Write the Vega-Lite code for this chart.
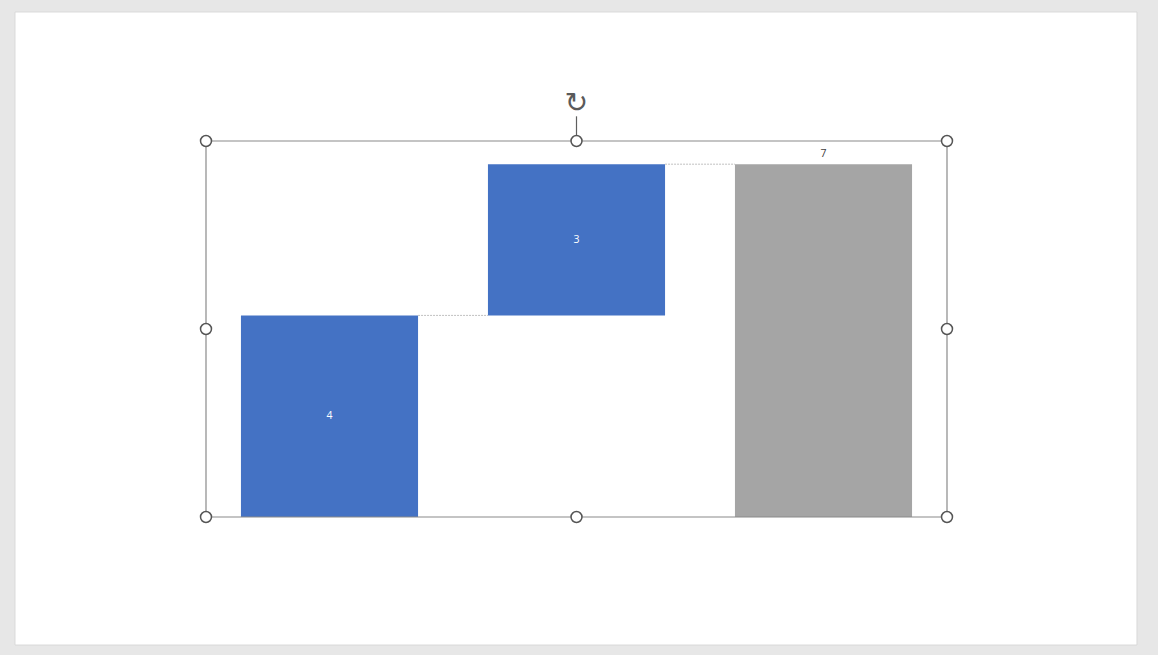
{
  "$schema": "https://vega.github.io/schema/vega-lite/v6.json",
  "autosize": "none",
  "width": 741,
  "height": 376,
  "padding": {"left": 206, "top": 141, "right": 211, "bottom": 138},
  "background": "#e7e7e7",
  "config": {"view": {"stroke": null}},
  "datasets": {
    "bars": [
      {"cat": "Category 1", "start": 0, "end": 4, "label": "4", "kind": "increase"},
      {"cat": "Category 2", "start": 4, "end": 7, "label": "3", "kind": "increase"},
      {"cat": "Category 3", "start": 0, "end": 7, "label": "7", "kind": "total"}
    ],
    "connectors": [
      {"from": "Category 1", "to": "Category 2", "level": 4},
      {"from": "Category 2", "to": "Category 3", "level": 7}
    ],
    "slide": [{"x1": -0.2578, "x2": 1.2564, "y1": -2.54, "y2": 10.02}],
    "box": [{"x1": 0, "x2": 1, "y1": 0, "y2": 7.46}],
    "handles": [
      {"hx": 0, "hy": 0}, {"hx": 0.5, "hy": 0}, {"hx": 1, "hy": 0},
      {"hx": 0, "hy": 3.73}, {"hx": 1, "hy": 3.73},
      {"hx": 0, "hy": 7.46}, {"hx": 0.5, "hy": 7.46}, {"hx": 1, "hy": 7.46}
    ],
    "rotate": [{"rx": 0.5, "ry1": 7.46, "ry2": 7.95, "ry": 8.2, "icon": "↻"}]
  },
  "resolve": {"scale": {"x": "independent"}},
  "layer": [
    {
      "data": {"name": "slide"},
      "mark": {"type": "rect", "fill": "#ffffff", "stroke": "#d9d9d9", "strokeWidth": 1},
      "encoding": {
        "x": {"field": "x1", "type": "quantitative", "scale": {"domain": [0, 1], "nice": false, "zero": false}, "axis": null},
        "x2": {"field": "x2"},
        "y": {"field": "y1", "type": "quantitative", "scale": {"domain": [0, 7.46], "nice": false, "zero": true}, "axis": null},
        "y2": {"field": "y2"}
      }
    },
    {
      "data": {"name": "bars"},
      "mark": {"type": "bar"},
      "encoding": {
        "x": {"field": "cat", "type": "nominal", "sort": null, "scale": {"paddingInner": 0.283, "paddingOuter": 0.1415}, "axis": null},
        "y": {"field": "start", "type": "quantitative", "axis": null},
        "y2": {"field": "end"},
        "color": {"field": "kind", "type": "nominal", "scale": {"domain": ["increase", "total"], "range": ["#4472C4", "#A5A5A5"]}, "legend": null}
      }
    },
    {
      "data": {"name": "connectors"},
      "mark": {"type": "rule", "stroke": "#c0c0c0", "strokeWidth": 1, "strokeDash": [2, 1]},
      "encoding": {
        "x": {"field": "from", "type": "nominal", "bandPosition": 1, "scale": {"domain": ["Category 1", "Category 2", "Category 3"], "paddingInner": 0.283, "paddingOuter": 0.1415}, "axis": null},
        "x2": {"field": "to", "bandPosition": 0},
        "y": {"field": "level", "type": "quantitative", "axis": null}
      }
    },
    {
      "data": {"name": "bars"},
      "transform": [
        {"filter": "datum.kind === 'increase'"},
        {"calculate": "(datum.start + datum.end) / 2", "as": "mid"}
      ],
      "mark": {"type": "text", "font": "Open Sans", "fontSize": 10.5, "baseline": "middle", "color": "#ffffff"},
      "encoding": {
        "x": {"field": "cat", "type": "nominal", "sort": null, "scale": {"domain": ["Category 1", "Category 2", "Category 3"], "paddingInner": 0.283, "paddingOuter": 0.1415}, "axis": null},
        "y": {"field": "mid", "type": "quantitative", "axis": null},
        "text": {"field": "label"}
      }
    },
    {
      "data": {"name": "bars"},
      "transform": [{"filter": "datum.kind === 'total'"}],
      "mark": {"type": "text", "font": "Open Sans", "fontSize": 10.5, "baseline": "middle", "dy": -10, "color": "#404040"},
      "encoding": {
        "x": {"field": "cat", "type": "nominal", "sort": null, "scale": {"domain": ["Category 1", "Category 2", "Category 3"], "paddingInner": 0.283, "paddingOuter": 0.1415}, "axis": null},
        "y": {"field": "end", "type": "quantitative", "axis": null},
        "text": {"field": "label"}
      }
    },
    {
      "data": {"name": "box"},
      "mark": {"type": "rect", "fill": null, "fillOpacity": 0, "stroke": "#8a8a8a", "strokeWidth": 1.2},
      "encoding": {
        "x": {"field": "x1", "type": "quantitative", "scale": {"domain": [0, 1], "nice": false, "zero": false}, "axis": null},
        "x2": {"field": "x2"},
        "y": {"field": "y1", "type": "quantitative", "axis": null},
        "y2": {"field": "y2"}
      }
    },
    {
      "data": {"name": "rotate"},
      "mark": {"type": "rule", "stroke": "#5f5f5f", "strokeWidth": 1.2},
      "encoding": {
        "x": {"field": "rx", "type": "quantitative", "scale": {"domain": [0, 1], "nice": false, "zero": false}, "axis": null},
        "y": {"field": "ry1", "type": "quantitative", "axis": null},
        "y2": {"field": "ry2"}
      }
    },
    {
      "data": {"name": "handles"},
      "mark": {"type": "point", "shape": "circle", "filled": true, "fill": "#ffffff", "stroke": "#555555", "strokeWidth": 1.5, "size": 120, "opacity": 1},
      "encoding": {
        "x": {"field": "hx", "type": "quantitative", "scale": {"domain": [0, 1], "nice": false, "zero": false}, "axis": null},
        "y": {"field": "hy", "type": "quantitative", "axis": null}
      }
    },
    {
      "data": {"name": "rotate"},
      "mark": {"type": "text", "font": "DejaVu Sans", "fontSize": 28, "color": "#5a5a5a", "baseline": "middle", "align": "center"},
      "encoding": {
        "x": {"field": "rx", "type": "quantitative", "scale": {"domain": [0, 1], "nice": false, "zero": false}, "axis": null},
        "y": {"field": "ry", "type": "quantitative", "axis": null},
        "text": {"field": "icon"}
      }
    }
  ]
}
